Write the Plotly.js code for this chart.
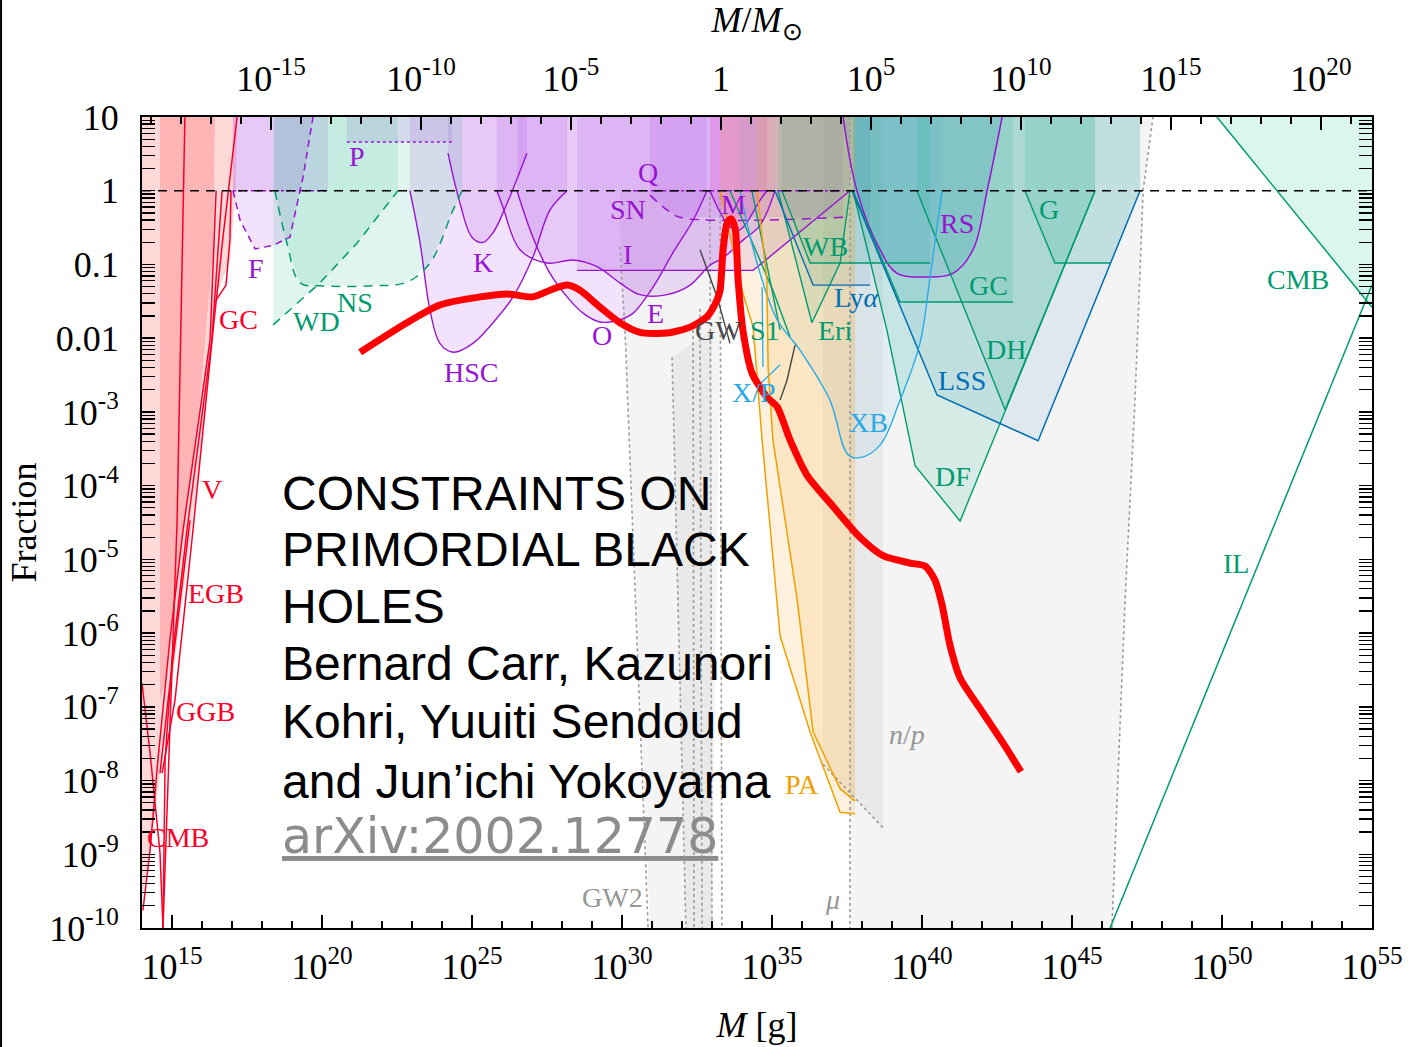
<!DOCTYPE html>
<html><head><meta charset="utf-8">
<script src="https://cdn.plot.ly/plotly-3.0.1.min.js"></script>
<style>html,body{margin:0;padding:0;background:#fff}#chart{width:1408px;height:1047px}</style>
</head><body><div id="chart"></div>
<script>
// All values are log10(M [g]) and log10(fraction f).
const LOG_MSUN = Math.log10(1.989e33);
const TOP = 1;

// evaporation constraints (red)
const evapOuterM = [14,17.17,17.13,16.93,16.43,16.27,15.93,15.60,15.20,14.77,14.27,14];
const evapOuterF = [1,1,0,-0.94,-1.48,-2.30,-3.65,-4.74,-6.09,-7.45,-8.94,-9.62];
const evapInnerM = [14.60,16.43,16.37,15.93,15.27,14.77,14.60];
const evapInnerF = [1,1,-0.80,-2.84,-5.01,-6.64,-6.91];
const red1M = [15.43,15.17,14.70];            const red1F = [1,-4.47,-10];
const vM = [17.17,16.70,16.37,15.70,15.10,14.67]; const vF = [1,-0.63,-1.89,-4.60,-6.91,-7.90];
const egbM = [16.67,16.33,15.50,15.00,14.77,14.70]; const egbF = [0,-2.02,-4.60,-6.36,-7.72,-10];
const ggbM = [16.47,16.27,15.37,14.93,14.53,14.27,14.03]; const ggbF = [0,-2.02,-4.60,-6.09,-7.72,-8.94,-9.76];
const ggb2M = [14.60,14.87,15.60];             const ggb2F = [-7.90,-6.91,-4.47];
const gcRedM = [16.97,16.93,16.80,16.43];      const gcRedF = [0,-0.67,-1.28,-1.51];
const cmbRedM = [14,14.27,14.60,14.70];        const cmbRedF = [-6.68,-7.63,-8.98,-10];

// lensing etc. (purple)
const fM = [17.03,17.27,17.77,18.37,18.93,19.37,19.70]; const fF = [0,-0.40,-0.79,-0.74,-0.63,0.19,1];
const fTopM = [17.03,20.20]; const fTopF = [0,0];
const pM = [20.83,24.33];    const pF = [0.66,0.66];
const hscM = [22.93,23.27,23.60,23.93,24.37,25.03,25.70,26.37,27.03,27.60,28.17];
const hscF = [0,-0.71,-1.62,-2.07,-2.19,-2.07,-1.79,-1.44,-0.90,-0.26,0];
const kM = [24.20,24.60,25.00,25.37,25.70,26.17,26.83]; const kF = [0.51,-0.17,-0.63,-0.70,-0.57,-0.17,0.51];
const eM = [25.83,26.03,26.60,27.50,28.37,29.17,29.93,30.60,31.50,32.27,32.93,33.37,34.03,34.60,35.10];
const eF = [0,-0.22,-0.80,-0.98,-0.94,-1.03,-1.25,-1.41,-1.41,-1.28,-1.01,-0.91,-0.67,-0.47,0];
const oM = [26.50,27.03,27.60,28.17,28.70,29.27,29.93,30.37,31.03,31.70,32.37,32.83];
const oF = [0,-0.63,-1.12,-1.44,-1.66,-1.78,-1.75,-1.66,-1.31,-0.84,-0.40,0];
const iM = [28.50,34.37,37.60]; const iF = [-1.08,-1.08,0];
const qM = [30.93,31.50,31.93,37.37]; const qF = [-0.06,-0.26,-0.36,-0.36];
const snM = [30.37,37.40]; const snF = [0,0];
const mM = [32.93,33.60,33.93,34.60,34.83]; const mF = [0,-0.49,-0.53,-0.13,0];
const rsM = [37.37,37.83,38.60,39.17,40.17,41.03,41.70,42.17,42.67]; const rsF = [1,0,-0.80,-1.12,-1.17,-1.12,-0.80,0,1];

// dynamical / accretion (green, blue)
const wdM = [18.37,19.93,21.17,22.53]; const wdF = [-1.82,-1.25,-0.71,0];
const nsM = [18.43,18.83,19.27,19.93,21.70,22.83,23.60,24.37,24.67]; const nsF = [0,-0.71,-1.25,-1.29,-1.29,-1.24,-0.98,-0.26,0];
const s1aM = [33.60,35.03,35.60]; const s1aF = [0,-1.35,-1.98];
const s1bM = [34.33,35.27];       const s1bF = [0,-1.89];
const wbM = [35.33,36.27,40.27];  const wbF = [0,-0.98,-0.98];
const eriM = [35.20,36.33,37.27,37.60]; const eriF = [0,-1.79,-0.98,0];
const lyaM = [35.10,36.37,38.27]; const lyaF = [0,-1.28,-1.28];
const gcM = [37.70,39.27,43.03]; const gcF = [0,-1.51,-1.51];
const dhM = [39.83,42.77,45.77]; const dhF = [0,-2.97,0];
const dfM = [37.70,38.83,39.77,41.27,42.83,45.77]; const dfF = [0,-1.89,-3.73,-4.48,-2.93,0];
const gM = [43.43,44.43,46.27]; const gF = [0,-0.98,-0.98];
const lssM = [37.67,40.50,43.87,47.27]; const lssF = [0,-2.77,-3.39,0];
const xbM = [33.93,34.50,35.17,35.93,36.93,37.53,37.93,38.60,39.27,39.93,40.27,40.67];
const xbF = [0,-0.98,-1.75,-2.16,-2.84,-3.58,-3.62,-3.45,-2.84,-2.07,-1.17,0];
const xp1M = [34.50,35.27]; const xp1F = [-2.66,-2.36];
const xp2M = [34.67,34.70]; const xp2F = [-1.31,-2.39];
const cmbM = [49.83,55]; const cmbF = [1,-1.58];
const ilM = [46.27,55];  const ilF = [-10,-1.28];

// accretion PA (orange)
const paOutM = [33.27,34.03,34.37,34.67,35.27,36.27,37.27,37.77]; const paOutF = [0,-1.39,-1.85,-3.38,-6.04,-7.34,-8.43,-8.45];
const paInM = [34.50,34.83,34.87,35.03,35.83,36.37,37.27,37.77];  const paInF = [0,-1.21,-2.39,-3.38,-5.52,-7.34,-8.11,-8.28];

// gravitational-wave and CMB distortion (gray)
const muM = [37.60,37.60,46.33,46.77,47.10,47.37,47.70]; const muF = [1,-10,-10,-5.55,-2.84,0,1];
const npM = [36.70,36.70,38.70,38.70]; const npF = [1,-7.78,-8.64,1];
const gw2M = [29.93,30.93,33.00,33.33,29.93]; const gw2F = [-0.40,-10,-10,0,0];
const gw2bM = [31.67,32.13,33.00,33.00]; const gw2bF = [-2.26,-10,-10,-1.89];
const dots = [
  [[29.93,30.10,30.87],[-0.76,-1.89,-10]],
  [[31.67,32.13],[-2.26,-10]],
  [[32.37,32.40],[-1.89,-10]],
  [[32.60,32.67],[-1.60,-10]],
  [[32.93,33.00],[0,-10]],
  [[33.27,33.33],[0,-10]]
];
const gwM = [32.60,33.17,33.60]; const gwF = [-0.80,-1.44,-2.07];
const gwbM = [35.77,35.50,35.27]; const gwbF = [-2.09,-2.57,-2.84];

// the f = 1 level, in units of M/M_sun (drawn on the top axis)
const unitM = [14,55]; const unitF = [0,0];

// the hypothetical PBH mass function (thick red curve)
const pbhM = [21.27,22.83,23.93,25.27,26.17,27.03,27.60,28.17,28.60,29.27,29.93,30.60,31.50,32.27,32.83,33.17,33.27,33.37,33.50,33.63,33.77,33.87,34.03,34.33,34.83,35.17,35.60,36.17,37.03,37.93,38.70,39.60,40.10,40.43,40.67,40.93,41.27,42.03,42.70,43.30];
const pbhF = [-2.19,-1.79,-1.55,-1.44,-1.40,-1.44,-1.35,-1.28,-1.35,-1.58,-1.79,-1.92,-1.93,-1.85,-1.71,-1.48,-1.35,-0.80,-0.44,-0.38,-0.51,-1.21,-1.89,-2.47,-2.80,-2.93,-3.38,-3.86,-4.28,-4.70,-4.95,-5.05,-5.09,-5.28,-5.62,-6.16,-6.61,-7.08,-7.49,-7.88];

// axes
const xMajorExp = [15,20,25,30,35,40,45,50,55];
const x2MajorExp = [-15,-10,-5,0,5,10,15,20];
const yMajorExp = [-10,-9,-8,-7,-6,-5,-4,-3,-2,-1,0,1];
const yTickText = ['10<sup>-10</sup>','10<sup>-9</sup>','10<sup>-8</sup>','10<sup>-7</sup>','10<sup>-6</sup>','10<sup>-5</sup>','10<sup>-4</sup>','10<sup>-3</sup>','0.01','0.1','1','10'];

// ---------------- drawing ----------------
const P = v => Math.pow(10, v);
const traces = [];
const PURPLE='rgb(150,20,210)', PURPLEF='rgba(165,60,225,0.15)';
const GREEN='rgb(0,155,110)', GREENF='rgba(0,175,125,0.12)';
const RED='rgb(250,0,40)', REDF='rgba(255,60,60,0.2)';
const BLUE='rgb(0,110,180)', BLUEF='rgba(0,110,180,0.09)';
const LBLUE='rgb(40,170,230)', LBLUEF='rgba(40,170,230,0.08)';
const ORANGE='rgb(240,160,0)', ORANGEF='rgba(245,165,30,0.14)';
const GRAYF='rgba(0,0,0,0.045)', DOT='rgb(155,155,155)';

function poly(lm, lf, color){
  traces.push({x:lm.map(P), y:lf.map(P), mode:'lines', fill:'toself', fillcolor:color, line:{width:0}, hoverinfo:'skip'});
}
function fillTop(lm, lf, color, extraM, extraF){
  const xs = lm.concat(extraM||[]); const ys = lf.concat(extraF||[]);
  poly(xs.concat([xs[xs.length-1], xs[0]]), ys.concat([TOP, TOP]), color);
}
function line(lm, lf, color, width, dash, shape){
  traces.push({x:lm.map(P), y:lf.map(P), mode:'lines', line:{color:color, width:width||1.3, dash:dash||'solid', shape:shape||'linear'}, hoverinfo:'skip'});
}

// gray
poly(muM, muF, GRAYF);
poly(npM, npF, GRAYF);
poly(gw2M, gw2F, GRAYF);
poly(gw2bM, gw2bF, GRAYF);
// red
poly(evapOuterM, evapOuterF, REDF);
poly(evapInnerM, evapInnerF, 'rgba(255,60,60,0.22)');
// purple
fillTop(fM, fF, PURPLEF);
fillTop(fTopM, fTopF, PURPLEF);
fillTop(pM, pF, PURPLEF);
fillTop(hscM, hscF, PURPLEF);
fillTop(kM, kF, PURPLEF);
fillTop(eM, eF, PURPLEF);
fillTop(oM, oF, PURPLEF);
fillTop(iM, iF, PURPLEF);
fillTop(qM, qF, PURPLEF);
fillTop(mM, mF, 'rgba(235,60,190,0.22)');
fillTop(rsM, rsF, 'rgba(60,110,200,0.15)');
// green / blue
fillTop(wdM, wdF, GREENF);
fillTop(nsM, nsF, GREENF);
fillTop(wbM, wbF, GREENF);
fillTop(eriM, eriF, GREENF);
fillTop(lyaM, lyaF, BLUEF);
fillTop(gcM, gcF, GREENF);
fillTop(dhM, dhF, GREENF);
fillTop(dfM, dfF, GREENF);
fillTop(gM, gF, GREENF, [lssM[lssM.length-1]], [lssF[lssF.length-1]]);
fillTop(lssM, lssF, BLUEF);
fillTop(xbM, xbF, LBLUEF);
fillTop(cmbM, cmbF, 'rgba(0,190,140,0.14)');
// orange
fillTop(paOutM, paOutF, ORANGEF);
fillTop(paInM, paInF, ORANGEF);

// lines
dots.forEach(d => line(d[0], d[1], DOT, 1.6, 'dot'));
line([muM[0], muM[1]], [muF[0], muF[1]], DOT, 1.6, 'dot');
line(muM.slice(2), muF.slice(2), DOT, 1.6, 'dot');
line(npM.slice(1,3), npF.slice(1,3), DOT, 1.6, 'dot');
[[red1M,red1F],[vM,vF],[egbM,egbF],[ggbM,ggbF],[ggb2M,ggb2F],[gcRedM,gcRedF],[cmbRedM,cmbRedF]].forEach(a=>line(a[0],a[1],RED,1.5));
line(fM, fF, PURPLE, 1.5, '7px,5px');
line(fTopM, fTopF, PURPLE, 1.5, 'dot');
line(pM, pF, PURPLE, 1.5, 'dot');
line(hscM, hscF, PURPLE, 1.4, 'solid', 'spline');
line(kM, kF, PURPLE, 1.4, 'solid', 'spline');
line(eM, eF, PURPLE, 1.4, 'solid', 'spline');
line(oM, oF, PURPLE, 1.4, 'solid', 'spline');
line(iM, iF, PURPLE, 1.4);
line(qM, qF, PURPLE, 1.5, '9px,7px', 'spline');
line(snM, snF, PURPLE, 1.5, 'dashdot');
line(mM, mF, PURPLE, 1.4, 'solid', 'spline');
line(rsM, rsF, PURPLE, 1.5, 'solid', 'spline');
line(wdM, wdF, GREEN, 1.5, '9px,7px');
line(nsM, nsF, GREEN, 1.5, '9px,7px', 'spline');
line(s1aM, s1aF, GREEN, 1.4); line(s1bM, s1bF, GREEN, 1.4);
line(wbM, wbF, GREEN, 1.4); line(eriM, eriF, GREEN, 1.4);
line(lyaM, lyaF, BLUE, 1.4);
line(gcM, gcF, GREEN, 1.4); line(dhM, dhF, GREEN, 1.4); line(dfM, dfF, GREEN, 1.4); line(gM, gF, GREEN, 1.4);
line(lssM, lssF, BLUE, 1.5);
line(xbM, xbF, LBLUE, 1.4, 'solid', 'spline');
line(xp1M, xp1F, LBLUE, 1.3); line(xp2M, xp2F, LBLUE, 1.3);
line(cmbM, cmbF, GREEN, 1.5); line(ilM, ilF, GREEN, 1.5);
line(paOutM, paOutF, ORANGE, 1.5); line(paInM, paInF, ORANGE, 1.5);
line(gwM, gwF, 'rgb(70,70,70)', 1.4); line(gwbM, gwbF, 'rgb(70,70,70)', 1.4);
// f = 1, plotted against the solar-mass axis on top
traces.push({x:unitM.map(v => P(v - LOG_MSUN)), y:unitF.map(P), xaxis:'x2', yaxis:'y', mode:'lines', line:{color:'#000', width:1.5, dash:'9px,7px'}, hoverinfo:'skip'});
// PBH curve
traces.push({x:pbhM.map(P), y:pbhF.map(P), mode:'lines', line:{color:'#ff0000', width:7, shape:'spline', smoothing:0.7}, hoverinfo:'skip'});

const LBL = 'Liberation Serif, Times New Roman, serif';
const labels = [
 ['P',21.17,0.46,PURPLE],['F',17.80,-1.05,PURPLE],['GC',17.20,-1.75,RED],['WD',19.83,-1.78,GREEN],['NS',21.10,-1.51,GREEN],
 ['HSC',24.97,-2.46,PURPLE],['K',25.37,-0.97,PURPLE],['Q',30.87,0.25,PURPLE],['SN',30.20,-0.26,PURPLE],['I',30.17,-0.87,PURPLE],
 ['E',31.10,-1.66,PURPLE],['O',29.33,-1.97,PURPLE],['M',33.70,-0.19,PURPLE],['GW',33.20,-1.89,'rgb(70,70,70)'],['S1',34.77,-1.89,GREEN],
 ['WB',36.77,-0.75,GREEN],['Ly<i>α</i>',37.83,-1.45,BLUE],['Eri',37.10,-1.89,GREEN],['RS',41.17,-0.44,PURPLE],['G',44.23,-0.26,GREEN],
 ['GC',42.20,-1.28,GREEN],['DH',42.80,-2.15,GREEN],['LSS',41.33,-2.57,BLUE],['XB',38.20,-3.15,LBLUE],['X/P',34.40,-2.74,LBLUE],
 ['DF',41.03,-3.88,GREEN],['CMB',52.53,-1.21,GREEN],['IL',50.47,-5.05,GREEN],['V',16.33,-4.05,RED],['EGB',16.47,-5.46,RED],
 ['GGB',16.13,-7.06,RED],['CMB',15.20,-8.77,RED],['<i>n</i>/<i>p</i>',39.50,-7.38,'rgb(150,150,150)'],['PA',36.00,-8.06,ORANGE],
 ['GW2',29.67,-9.58,'rgb(150,150,150)'],['<i>μ</i>',37.03,-9.62,'rgb(150,150,150)']
];
const annotations = labels.map(l => ({text:l[0], x:l[1], y:l[2], xref:'x', yref:'y', showarrow:false, font:{family:LBL, size:28, color:l[3]}}));

const overlay = ['CONSTRAINTS ON','PRIMORDIAL BLACK','HOLES','Bernard Carr, Kazunori','Kohri, Yuuiti Sendoud','and Jun’ichi Yokoyama'];
const overlayY = [0.536,0.467,0.396,0.326,0.255,0.181];
overlay.forEach((t,i) => annotations.push({text:t, xref:'paper', yref:'paper', x:0.112, y:overlayY[i], xanchor:'left', yanchor:'middle', showarrow:false, font:{family:'Liberation Sans, Arial, sans-serif', size:48, color:'#000'}}));
annotations.push({text:'<u>arXiv:2002.12778</u>', xref:'paper', yref:'paper', x:0.112, y:0.113, xanchor:'left', yanchor:'middle', showarrow:false, font:{family:'DejaVu Sans, sans-serif', size:49, color:'rgb(140,140,140)'}});

const yMinor = []; for (let d=-10; d<1; d++) for (let k=2; k<10; k++) yMinor.push(k*Math.pow(10,d));
const xMinor = []; for (let d=14; d<=55; d++) xMinor.push(Math.pow(10,d));
const x2Minor = []; for (let d=-19; d<=21; d++) x2Minor.push(Math.pow(10,d));
const expText = e => e===0 ? '1' : '10<sup>'+e+'</sup>';

const axCommon = {showline:true, linecolor:'#000', linewidth:2, ticks:'inside', ticklen:13, tickwidth:1.5, tickcolor:'#000', showgrid:false, zeroline:false, tickfont:{family:LBL, size:36, color:'#000'}};
const layout = {
  width:1408, height:1047, margin:{l:142, r:36, t:117, b:119},
  paper_bgcolor:'#fff', plot_bgcolor:'#fff', showlegend:false,
  font:{family:LBL, color:'#000'},
  xaxis:Object.assign({}, axCommon, {type:'log', range:[14,55], tickmode:'array', tickvals:xMajorExp.map(P), ticktext:xMajorExp.map(expText), mirror:false,
    ticklabelstandoff:6,
    minor:{tickmode:'array', tickvals:xMinor, ticks:'inside', ticklen:7, tickwidth:1.3, tickcolor:'#000', showgrid:false},
    title:{text:'<i>M</i> [g]', font:{family:LBL, size:36}, standoff:26}}),
  xaxis2:Object.assign({}, axCommon, {type:'log', overlaying:'x', side:'top', anchor:'y', range:[14-LOG_MSUN, 55-LOG_MSUN], tickmode:'array', tickvals:x2MajorExp.map(P), ticktext:x2MajorExp.map(expText),
    ticklabelstandoff:10,
    minor:{tickmode:'array', tickvals:x2Minor, ticks:'inside', ticklen:7, tickwidth:1.3, tickcolor:'#000', showgrid:false},
    title:{text:'<i>M</i>/<i>M</i><sub>⊙</sub>', font:{family:LBL, size:36}, standoff:14}}),
  yaxis:Object.assign({}, axCommon, {type:'log', range:[-10,1], tickmode:'array', tickvals:yMajorExp.map(P), ticktext:yTickText, mirror:'allticks',
    ticklabelstandoff:14,
    minor:{tickmode:'array', tickvals:yMinor, ticks:'inside', ticklen:7, tickwidth:1.3, tickcolor:'#000', showgrid:false},
    title:{text:'Fraction', font:{family:LBL, size:36}, standoff:2}}),
  annotations:annotations,
  shapes:[{type:'line', xref:'paper', yref:'paper', x0:-0.1146, x1:-0.1146, y0:-0.15, y1:1.15, line:{color:'#000', width:2}}]
};
Plotly.newPlot('chart', traces, layout, {staticPlot:true, displayModeBar:false});
</script></body></html>
